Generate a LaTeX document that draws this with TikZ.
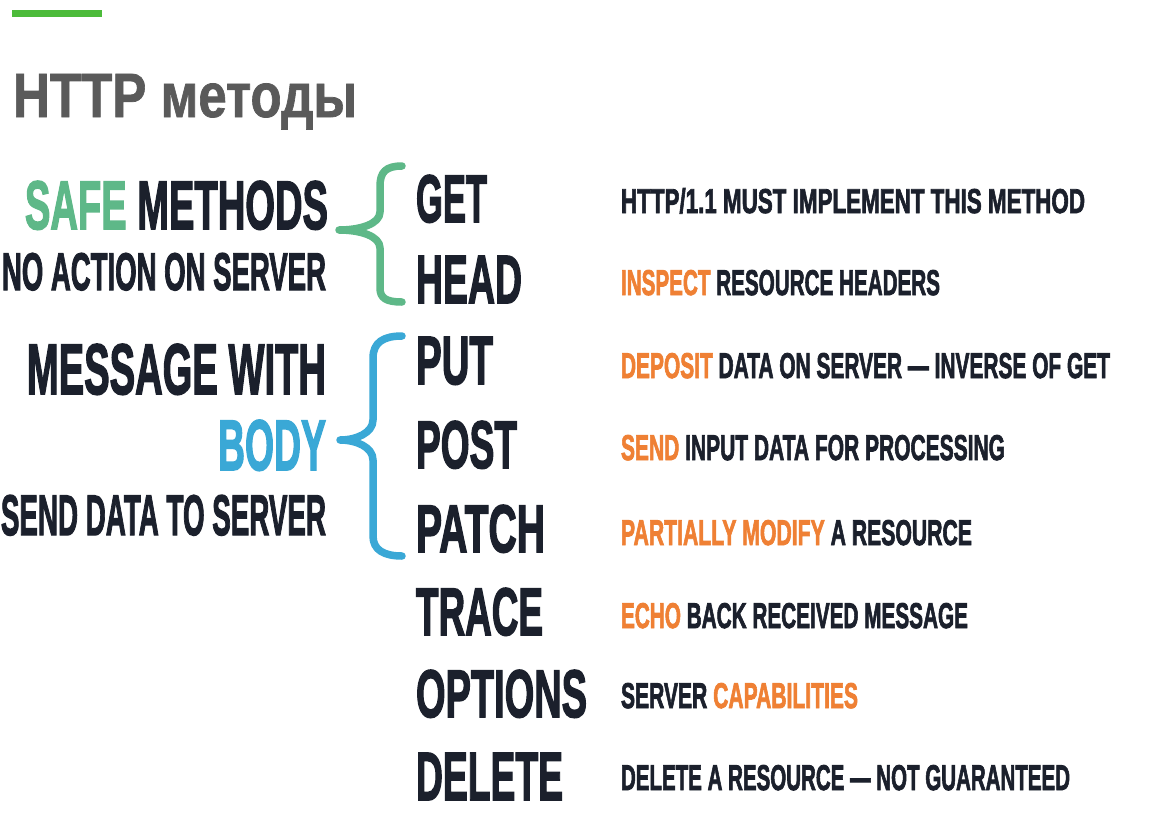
\documentclass[tikz,border=0pt]{standalone}
\usepackage{fontspec}
\usepackage{graphicx}
\newfontfamily\condfont{Liberation Sans}[FakeBold=2.5]
\newfontfamily\titlefont{Liberation Sans}[FakeBold=1.2]
\definecolor{ink}{RGB}{27,32,44}
\definecolor{safegreen}{RGB}{94,184,136}
\definecolor{bodyblue}{RGB}{58,168,214}
\definecolor{orng}{RGB}{239,128,52}
\definecolor{titlegray}{RGB}{90,90,90}
\definecolor{bargreen}{RGB}{76,187,58}
\newcommand\fitbox[3]{\resizebox{#1pt}{#2pt}{#3}}
\newcommand\cnd[1]{{\condfont\bfseries #1}}
\begin{document}
\begin{tikzpicture}[x=1pt,y=-1pt,
  txt/.style={inner sep=0pt,outer sep=0pt,text=ink},
  lefttxt/.style={txt,anchor=base east},
  methtxt/.style={txt,anchor=base west},
  desctxt/.style={txt,anchor=base west},
  bracegreen/.style={draw=safegreen,line width=7.5pt,line cap=round,line join=round},
  braceblue/.style={draw=bodyblue,line width=7.5pt,line cap=round,line join=round}]
\fill[white] (0,0) rectangle (1164,822);
\useasboundingbox (0,0) rectangle (1164,822);
% top bar and title
\fill[bargreen] (12,10) rectangle (102,17);
\node[txt,anchor=base west,text=titlegray] (title) at (13,117)
  {\fitbox{344}{43}{\titlefont\bfseries HTTP методы}};
% left column
\node[lefttxt] (safe) at (328,229)
  {\fitbox{303}{48}{\cnd{\color{safegreen}SAFE \color{ink}METHODS}}};
\node[lefttxt] (noaction) at (326,290)
  {\fitbox{324}{37}{\cnd{NO ACTION ON SERVER}}};
\node[lefttxt] (msg) at (326,394)
  {\fitbox{299}{50}{\cnd{MESSAGE WITH}}};
\node[lefttxt,text=bodyblue] (body) at (326,470)
  {\fitbox{108}{50}{\cnd{BODY}}};
\node[lefttxt] (senddata) at (326,535)
  {\fitbox{325}{40}{\cnd{SEND DATA TO SERVER}}};
% braces
\coordinate (gtop) at (402,166);
\coordinate (gtip) at (339,230);
\coordinate (gbot) at (402,302);
\draw[bracegreen] (gtop) .. controls (386,166) and (380,172) .. (380,186) -- (380,212)
  .. controls (380,224) and (360,230) .. (gtip)
  .. controls (360,230) and (380,236) .. (380,248) -- (380,288)
  .. controls (380,298) and (386,302) .. (gbot);
\coordinate (btop) at (402,336);
\coordinate (btip) at (340,440);
\coordinate (bbot) at (402,556);
\draw[braceblue] (btop) .. controls (384,336) and (373,342) .. (373,358) -- (373,420)
  .. controls (373,433) and (356,440) .. (btip)
  .. controls (356,440) and (373,447) .. (373,460) -- (373,536)
  .. controls (373,550) and (384,556) .. (bbot);
% methods
\node[methtxt] (get)     at (416,222) {\fitbox{71}{47}{\cnd{GET}}};
\node[methtxt] (head)    at (416,303) {\fitbox{106}{47}{\cnd{HEAD}}};
\node[methtxt] (put)     at (416,384) {\fitbox{77}{47}{\cnd{PUT}}};
\node[methtxt] (post)    at (416,468) {\fitbox{101}{47}{\cnd{POST}}};
\node[methtxt] (patch)   at (416,552) {\fitbox{129}{47}{\cnd{PATCH}}};
\node[methtxt] (trace)   at (416,635) {\fitbox{127}{47}{\cnd{TRACE}}};
\node[methtxt] (options) at (416,717) {\fitbox{171}{47}{\cnd{OPTIONS}}};
\node[methtxt] (delete)  at (416,800) {\fitbox{147}{47}{\cnd{DELETE}}};
% descriptions
\node[desctxt] (dget) at (621,213)
  {\fitbox{464}{25}{\cnd{HTTP/1.1 MUST IMPLEMENT THIS METHOD}}};
\node[desctxt] (dhead) at (621,295)
  {\fitbox{319}{25}{\cnd{\color{orng}INSPECT \color{ink}RESOURCE HEADERS}}};
\node[desctxt] (dput) at (621,378)
  {\fitbox{489}{25}{\cnd{\color{orng}DEPOSIT \color{ink}DATA ON SERVER — INVERSE OF GET}}};
\node[desctxt] (dpost) at (621,460)
  {\fitbox{384}{25}{\cnd{\color{orng}SEND \color{ink}INPUT DATA FOR PROCESSING}}};
\node[desctxt] (dpatch) at (621,545)
  {\fitbox{351}{25}{\cnd{\color{orng}PARTIALLY MODIFY \color{ink}A RESOURCE}}};
\node[desctxt] (dtrace) at (621,628)
  {\fitbox{347}{25}{\cnd{\color{orng}ECHO \color{ink}BACK RECEIVED MESSAGE}}};
\node[desctxt] (doptions) at (621,708)
  {\fitbox{237}{25}{\cnd{SERVER \color{orng}CAPABILITIES}}};
\node[desctxt] (ddelete) at (621,790)
  {\fitbox{449}{25}{\cnd{DELETE A RESOURCE — NOT GUARANTEED}}};
\end{tikzpicture}
\end{document}
